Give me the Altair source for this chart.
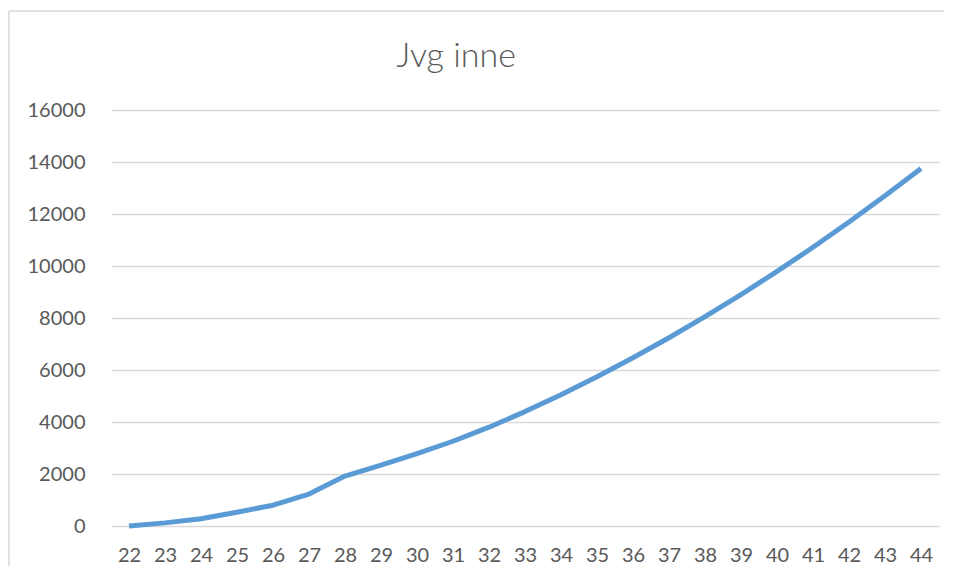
import altair as alt
import pandas as pd

weeks = [22, 23, 24, 25, 26, 27, 28, 29, 30, 31, 32, 33, 34, 35, 36, 37, 38, 39, 40, 41, 42, 43, 44]
values = [0, 120, 280, 530, 800, 1230, 1920, 2340, 2780, 3260, 3800, 4400, 5050, 5740, 6470, 7240, 8050,
          8900, 9790, 10720, 11690, 12700, 13750]
y_ticks = [0, 2000, 4000, 6000, 8000, 10000, 12000, 14000, 16000]
title_text = "Jvg inne"

df = pd.DataFrame({"week": weeks, "value": values})

FONT = "Lato"
LABEL_COLOR = "#595959"
GRID = "#d9d9d9"

line = alt.Chart(df).mark_line(color="#5B9BD5", strokeWidth=5, interpolate="linear",
                               strokeJoin="round").encode(
    x=alt.X("week:O", sort=weeks,
            scale=alt.Scale(type="point", padding=0.5),
            axis=alt.Axis(title=None, labelAngle=0, domain=False, ticks=False, grid=False,
                          labelFont=FONT, labelFontSize=20, labelColor=LABEL_COLOR,
                          labelPadding=19)),
    y=alt.Y("value:Q", scale=alt.Scale(domain=[0, 16000], nice=False),
            axis=alt.Axis(title=None, values=y_ticks, format="d", domain=False, ticks=False,
                          gridColor=GRID, gridWidth=1.5,
                          labelFont=FONT, labelFontSize=20, labelColor=LABEL_COLOR,
                          labelPadding=26)),
)

border_data = alt.Data(values=[{}])
left_border = alt.Chart(border_data).mark_rule(color=GRID, strokeWidth=1.5).encode(
    x=alt.value(-102), y=alt.value(-99), y2=alt.value(460)
)
top_border = alt.Chart(border_data).mark_rule(color=GRID, strokeWidth=1.5).encode(
    x=alt.value(-102), x2=alt.value(840), y=alt.value(-99)
)

title = alt.Chart(alt.Data(values=[{"t": title_text}])).mark_text(
    font=FONT, fontSize=34, fontWeight=300, color=LABEL_COLOR, align="center", baseline="alphabetic"
).encode(text="t:N", x=alt.value(345), y=alt.value(-43))

chart = alt.layer(left_border, top_border, line, title).properties(
    width=828,
    height=416,
    padding={"left": 103, "top": 102, "right": 5, "bottom": 40},
    autosize=alt.AutoSizeParams(type="none"),
).configure(background="white").configure_view(stroke=None)

chart.save("out.html", embed_options={"renderer": "svg", "actions": False})
